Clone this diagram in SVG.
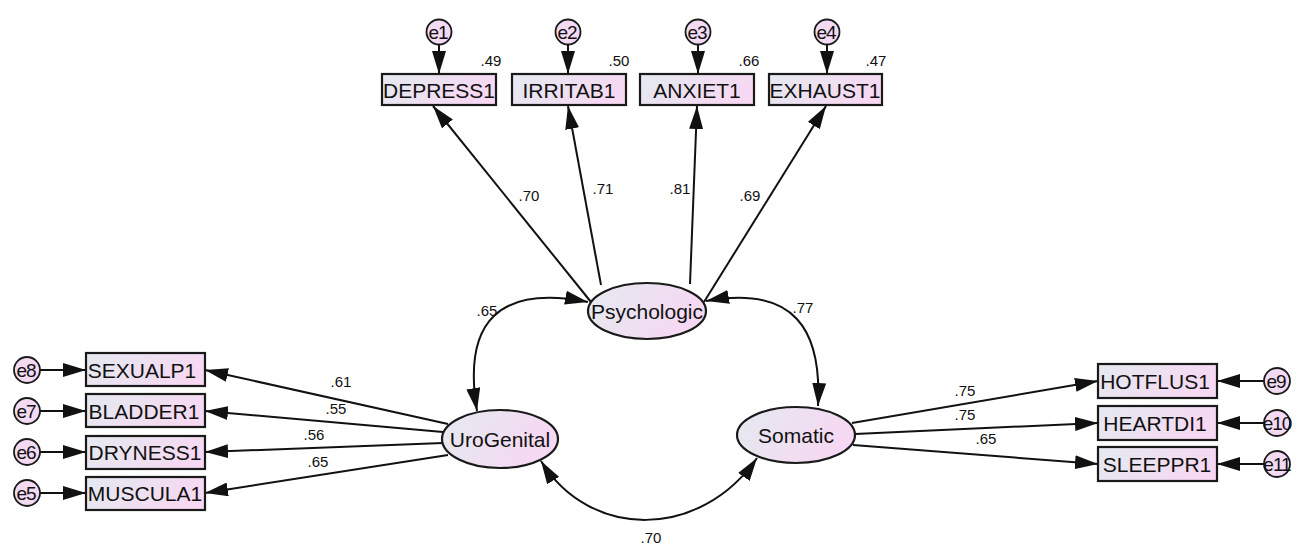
<svg xmlns="http://www.w3.org/2000/svg" width="1299" height="544" viewBox="0 0 1299 544">
<style>
.box{fill:url(#gb);stroke:#1a1a1a;stroke-width:2.2}
.lat{fill:url(#gb);stroke:#1a1a1a;stroke-width:2.2}
.err{fill:url(#ge);stroke:#1a1a1a;stroke-width:1.8}
.t{font-family:"Liberation Sans",Arial,sans-serif;font-size:21px;fill:#111;text-anchor:middle;dominant-baseline:central}
.et{font-family:"Liberation Sans",Arial,sans-serif;font-size:19px;fill:#111;text-anchor:middle;dominant-baseline:central;letter-spacing:-1px}
.n{font-family:"Liberation Sans",Arial,sans-serif;font-size:15px;fill:#111;text-anchor:middle;dominant-baseline:central}
.c{fill:none;stroke:#111;stroke-width:2;marker-end:url(#ah)}
.cc{fill:none;stroke:#111;stroke-width:2;marker-end:url(#ah);marker-start:url(#ah)}
</style>
<defs>
<linearGradient id="gb" x1="0" y1="0" x2="1" y2="0.3">
<stop offset="0" stop-color="#e4eaf0"/><stop offset="1" stop-color="#f6d8f2"/>
</linearGradient>
<linearGradient id="ge" x1="0" y1="0" x2="1" y2="0">
<stop offset="0" stop-color="#f0dcf2"/><stop offset="1" stop-color="#f6d8f2"/>
</linearGradient>
<marker id="ah" viewBox="0 0 23 14" refX="23" refY="7" markerUnits="userSpaceOnUse" markerWidth="23" markerHeight="14" orient="auto-start-reverse">
<path d="M0,0 L23,7 L0,14 Z" fill="#111"/>
</marker>
</defs>
<rect width="1299" height="544" fill="#fff"/>
<g id="connectors">
<line class="c" x1="439" y1="45" x2="439" y2="74"/>
<line class="c" x1="568" y1="45" x2="568" y2="74"/>
<line class="c" x1="698" y1="45" x2="698" y2="74"/>
<line class="c" x1="827" y1="45" x2="827" y2="74"/>
<line class="c" x1="591" y1="302" x2="433" y2="106"/>
<line class="c" x1="601" y1="285" x2="568" y2="106"/>
<line class="c" x1="690" y1="284" x2="697" y2="106"/>
<line class="c" x1="704" y1="302" x2="826" y2="106"/>
<line class="c" x1="40" y1="370" x2="86" y2="370"/>
<line class="c" x1="40" y1="411" x2="86" y2="411"/>
<line class="c" x1="40" y1="452" x2="86" y2="452"/>
<line class="c" x1="40" y1="493" x2="86" y2="493"/>
<line class="c" x1="448" y1="424" x2="205" y2="370"/>
<line class="c" x1="443" y1="432" x2="205" y2="411"/>
<line class="c" x1="443" y1="443" x2="205" y2="452"/>
<line class="c" x1="448" y1="455" x2="205" y2="493"/>
<line class="c" x1="852" y1="423" x2="1098" y2="381"/>
<line class="c" x1="855" y1="434" x2="1098" y2="423"/>
<line class="c" x1="853" y1="445" x2="1098" y2="464"/>
<line class="c" x1="1264" y1="381" x2="1217" y2="381"/>
<line class="c" x1="1264" y1="423" x2="1217" y2="423"/>
<line class="c" x1="1264" y1="464" x2="1217" y2="464"/>
<path class="cc" d="M477,411 C462,320 500,285 588,302"/>
<path class="cc" d="M706,301 C795,285 822,330 818,406"/>
<path class="cc" d="M541,461 C590,540 700,540 757,458"/>
</g>
<g id="e1"><circle class="err" cx="439" cy="32" r="12.5"/><text class="et" x="438" y="32">e1</text></g>
<g id="e2"><circle class="err" cx="568" cy="32" r="12.5"/><text class="et" x="567" y="32">e2</text></g>
<g id="e3"><circle class="err" cx="698" cy="32" r="12.5"/><text class="et" x="697" y="32">e3</text></g>
<g id="e4"><circle class="err" cx="827" cy="32" r="12.5"/><text class="et" x="826" y="32">e4</text></g>
<g id="e8"><circle class="err" cx="27" cy="370" r="13"/><text class="et" x="26" y="370">e8</text></g>
<g id="e7"><circle class="err" cx="27" cy="411" r="13"/><text class="et" x="26" y="411">e7</text></g>
<g id="e6"><circle class="err" cx="27" cy="452" r="13"/><text class="et" x="26" y="452">e6</text></g>
<g id="e5"><circle class="err" cx="27" cy="493" r="13"/><text class="et" x="26" y="493">e5</text></g>
<g id="e9"><circle class="err" cx="1277" cy="381" r="13"/><text class="et" x="1276" y="381">e9</text></g>
<g id="e10"><circle class="err" cx="1277" cy="423" r="13"/><text class="et" x="1277" y="423">e10</text></g>
<g id="e11"><circle class="err" cx="1277" cy="464" r="13"/><text class="et" x="1277" y="464">e11</text></g>
<g id="DEPRESS1"><rect class="box" x="382" y="74" width="114" height="31"/><text class="t" x="439" y="90">DEPRESS1</text></g>
<g id="IRRITAB1"><rect class="box" x="512" y="74" width="114" height="31"/><text class="t" x="569" y="90">IRRITAB1</text></g>
<g id="ANXIET1"><rect class="box" x="640" y="74" width="114" height="31"/><text class="t" x="697" y="90">ANXIET1</text></g>
<g id="EXHAUST1"><rect class="box" x="769" y="74" width="113" height="31"/><text class="t" x="825" y="90">EXHAUST1</text></g>
<g id="SEXUALP1"><rect class="box" x="86" y="353" width="119" height="33"/><text class="t" x="142" y="370">SEXUALP1</text></g>
<g id="BLADDER1"><rect class="box" x="86" y="394" width="119" height="33"/><text class="t" x="144" y="411">BLADDER1</text></g>
<g id="DRYNESS1"><rect class="box" x="86" y="436" width="119" height="33"/><text class="t" x="145" y="452">DRYNESS1</text></g>
<g id="MUSCULA1"><rect class="box" x="86" y="477" width="119" height="33"/><text class="t" x="145" y="493">MUSCULA1</text></g>
<g id="HOTFLUS1"><rect class="box" x="1098" y="364" width="119" height="34"/><text class="t" x="1155" y="381">HOTFLUS1</text></g>
<g id="HEARTDI1"><rect class="box" x="1098" y="406" width="119" height="34"/><text class="t" x="1155" y="423">HEARTDI1</text></g>
<g id="SLEEPPR1"><rect class="box" x="1098" y="447" width="119" height="34"/><text class="t" x="1157" y="464">SLEEPPR1</text></g>
<g id="Psychologic"><ellipse class="lat" cx="647" cy="311" rx="59" ry="28"/><text class="t" x="647" y="311">Psychologic</text></g>
<g id="UroGenital"><ellipse class="lat" cx="500" cy="439" rx="58" ry="29"/><text class="t" x="500" y="439">UroGenital</text></g>
<g id="Somatic"><ellipse class="lat" cx="796" cy="435" rx="59" ry="28"/><text class="t" x="796" y="435">Somatic</text></g>
<g id="labels">
<text class="n" x="491" y="60">.49</text>
<text class="n" x="619" y="60">.50</text>
<text class="n" x="749" y="60">.66</text>
<text class="n" x="876" y="60">.47</text>
<text class="n" x="529" y="195">.70</text>
<text class="n" x="603" y="188">.71</text>
<text class="n" x="680" y="188">.81</text>
<text class="n" x="750" y="195">.69</text>
<text class="n" x="487" y="310">.65</text>
<text class="n" x="803" y="307">.77</text>
<text class="n" x="651" y="537">.70</text>
<text class="n" x="341" y="381">.61</text>
<text class="n" x="336" y="408">.55</text>
<text class="n" x="314" y="434">.56</text>
<text class="n" x="318" y="461">.65</text>
<text class="n" x="965" y="390">.75</text>
<text class="n" x="965" y="414">.75</text>
<text class="n" x="986" y="438">.65</text>
</g>
</svg>
